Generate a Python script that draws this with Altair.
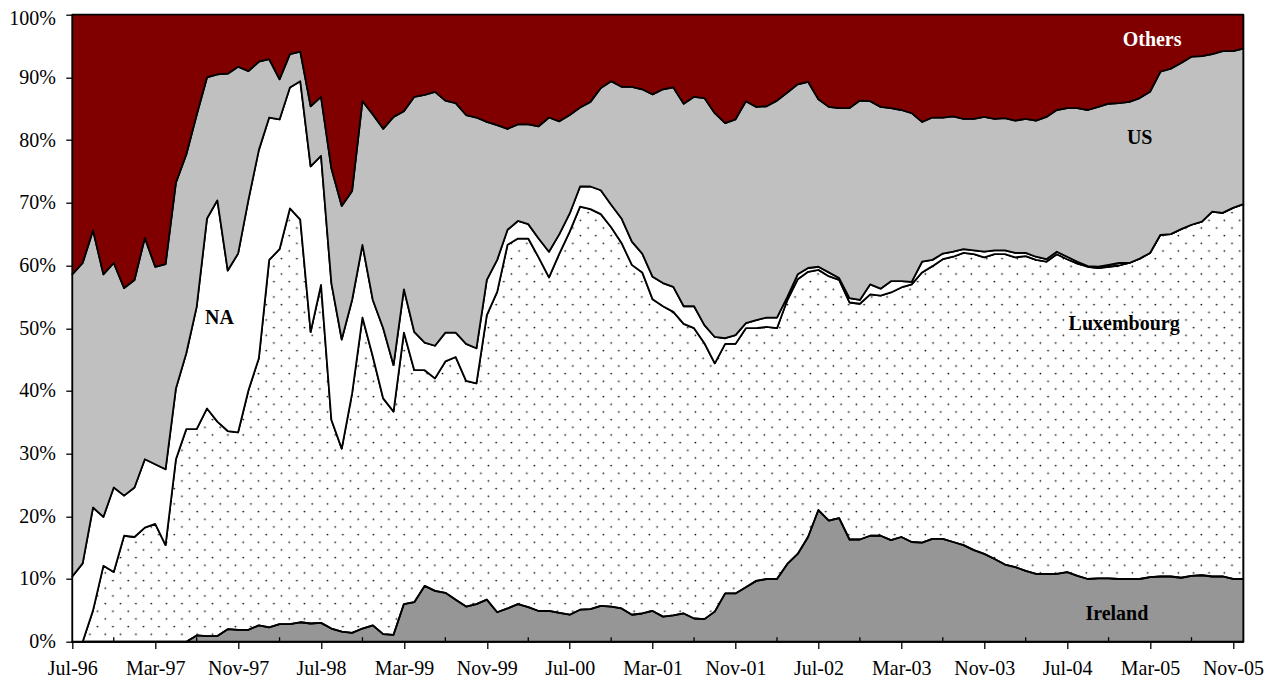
import json
from urllib.parse import quote

import altair as alt
import pandas as pd

# ---------------- data (shares in %, monthly Jul-96 .. Dec-05) ----------------
months = list(pd.period_range("1996-07", periods=114, freq="M").strftime("%b-%y"))

tick_labels = ["Jul-96", "Mar-97", "Nov-97", "Jul-98", "Mar-99", "Nov-99", "Jul-00",
               "Mar-01", "Nov-01", "Jul-02", "Mar-03", "Nov-03", "Jul-04", "Mar-05", "Nov-05"]
minor_ticks = ["Nov-96", "Jul-97", "Mar-98", "Nov-98", "Jul-99", "Mar-00", "Nov-00",
               "Jul-01", "Mar-02", "Nov-02", "Jul-03", "Mar-04", "Nov-04", "Jul-05"]

ireland = [0, 0, 0, 0, 0, 0, 0, 0, 0, 0, 0, 0,
           1.0, 0.9, 0.9, 2.0, 1.9, 1.9, 2.6, 2.3, 2.8, 2.8, 3.1, 2.9, 3.0, 2.1, 1.6, 1.4, 2.1, 2.6, 1.2, 1.1,
           6.0, 6.3, 8.9, 8.1, 7.8, 6.7, 5.6, 6.0, 6.7, 4.7, 5.3, 6.0, 5.5, 4.9, 4.9, 4.6, 4.3, 5.1, 5.2, 5.7,
           5.6, 5.3, 4.3, 4.5, 4.9, 4.0, 4.2, 4.5, 3.7, 3.6, 4.8, 7.7, 7.7, 8.7, 9.7, 10.0, 10.0, 12.4, 14.0, 16.7,
           21.0, 19.3, 19.7, 16.3, 16.3, 16.9, 16.9, 16.2, 16.7, 15.9, 15.8, 16.4, 16.4, 15.9, 15.4, 14.6, 14.0, 13.2, 12.3, 11.9,
           11.3, 10.8, 10.8, 10.8, 11.1, 10.5, 10.0, 10.1, 10.1, 10.0, 10.0, 10.0, 10.3, 10.4, 10.4, 10.2, 10.5, 10.6, 10.4, 10.4,
           10.0, 10.0]

luxembourg = [0, 0, 5.0, 12.1, 11.1, 16.9, 16.7, 18.2, 18.8, 15.4, 29.1, 33.9,
              32.9, 36.3, 34.2, 31.6, 31.5, 38.2, 42.6, 58.6, 59.8, 66.3, 64.2, 46.5, 53.9, 33.3, 29.2, 38.2, 49.6, 42.9, 37.6, 35.6,
              43.3, 37.0, 34.4, 33.9, 36.9, 38.7, 36.0, 35.2, 45.4, 51.1, 58.0, 58.3, 58.8, 56.4, 53.2, 57.3, 61.1, 64.3, 63.8, 62.5,
              60.5, 58.3, 55.8, 54.4, 49.7, 49.5, 48.4, 46.2, 46.3, 44.0, 39.6, 39.8, 39.8, 41.3, 40.3, 40.2, 40.0, 42.1, 43.8, 42.3,
              38.3, 39.0, 38.0, 37.8, 37.6, 38.5, 38.3, 39.5, 39.8, 41.1, 43.1, 43.5, 44.6, 45.5, 46.6, 47.2, 47.3, 48.6, 49.5, 49.4,
              50.2, 50.1, 49.8, 51.0, 49.9, 49.8, 49.8, 49.5, 49.7, 50.0, 50.4, 51.1, 51.7, 54.5, 54.6, 55.6, 56.0, 56.4, 58.2, 58.0,
              59.2, 59.8]

na = [10.4, 12.5, 16.4, 7.8, 13.5, 6.4, 7.9, 10.9, 9.5, 12.1, 11.3, 12.1,
      19.5, 30.3, 35.3, 25.6, 28.5, 30.4, 33.2, 22.7, 20.7, 19.3, 22.1, 26.4, 20.6, 21.8, 17.4, 14.9, 11.6, 9.0, 11.2, 7.4,
      6.9, 6.1, 4.4, 5.2, 4.6, 3.9, 5.9, 5.6, 5.6, 5.1, 2.4, 2.8, 2.3, 3.0, 4.1, 3.1, 2.9, 3.2, 3.6, 3.8,
      3.6, 3.9, 3.7, 3.0, 3.6, 3.7, 4.0, 2.8, 3.5, 2.9, 4.2, 0.9, 1.4, 0.8, 1.3, 1.5, 1.7, 0.5, 0.8, 0.6,
      0.5, 0.6, 0.3, 0.7, 0.6, 1.6, 1.1, 1.8, 1.0, 0.4, 1.7, 1.0, 0.9, 0.8, 0.6, 0.6, 0.9, 0.6, 0.6, 0.7,
      0.5, 0.5, 0.4, 0.4, 0.4, 0.3, 0.1, 0.2, 0.3, 0.4, 0.0, 0.0, 0, 0, 0, 0, 0, 0, 0, 0,
      0, 0]

us = [48.2, 47.9, 44.2, 38.7, 35.8, 33.1, 33.1, 35.3, 31.5, 32.7, 32.8, 31.7,
      30.6, 22.5, 20.1, 31.4, 29.8, 20.5, 14.1, 9.3, 6.4, 5.3, 4.7, 9.6, 9.4, 18.3, 21.3, 17.4, 22.9, 29.6, 31.8, 39.6,
      28.4, 37.5, 39.5, 40.5, 37.0, 36.6, 36.5, 36.8, 25.2, 21.5, 16.1, 15.4, 15.9, 17.9, 21.4, 18.0, 15.7, 12.6, 13.5, 16.3,
      19.7, 21.0, 24.7, 26.2, 29.1, 30.9, 31.8, 32.3, 33.4, 36.2, 35.7, 34.3, 34.4, 35.4, 34.0, 33.7, 34.6, 32.6, 30.3, 29.7,
      26.7, 26.4, 27.1, 30.3, 31.8, 29.2, 29.0, 27.6, 27.3, 26.9, 22.3, 22.7, 21.7, 21.6, 20.8, 21.0, 21.5, 21.0, 21.1, 21.1,
      21.4, 21.7, 22.7, 22.6, 23.7, 24.5, 24.9, 25.5, 25.7, 25.5, 25.7, 25.6, 25.7, 26.0, 26.4, 26.5, 26.8, 26.4, 25.1, 25.8,
      25.0, 24.8]

others = [41.4, 39.6, 34.4, 41.4, 39.6, 43.6, 42.3, 35.6, 40.2, 39.8, 26.8, 22.3,
          16.0, 10.0, 9.5, 9.4, 8.3, 9.0, 7.5, 7.1, 10.3, 6.3, 5.9, 14.6, 13.1, 24.5, 30.5, 28.1, 13.8, 15.9, 18.2, 16.3,
          15.4, 13.1, 12.8, 12.3, 13.7, 14.1, 16.0, 16.4, 17.1, 17.6, 18.2, 17.5, 17.5, 17.8, 16.4, 17.0, 16.0, 14.8, 13.9, 11.7,
          10.6, 11.5, 11.5, 11.9, 12.7, 11.9, 11.6, 14.2, 13.1, 13.3, 15.7, 17.3, 16.7, 13.8, 14.7, 14.6, 13.7, 12.4, 11.1, 10.7,
          13.5, 14.7, 14.9, 14.9, 13.7, 13.8, 14.7, 14.9, 15.2, 15.7, 17.1, 16.4, 16.4, 16.2, 16.6, 16.6, 16.3, 16.6, 16.5, 16.9,
          16.6, 16.9, 16.3, 15.2, 14.9, 14.9, 15.2, 14.7, 14.2, 14.1, 13.9, 13.3, 12.3, 9.1, 8.6, 7.7, 6.7, 6.6, 6.3, 5.8,
          5.8, 5.4]

series_names = ["Ireland", "Luxembourg", "NA", "US", "Others"]
series_values = [ireland, luxembourg, na, us, others]
series_fill = ["#969696", "transparent", "#ffffff", "#c0c0c0", "#800000"]

# in-chart labels: (name, month position, share)
label_names = ["Others", "US", "NA", "Luxembourg", "Ireland"]
label_month = [104.2, 103.0, 14.2, 101.5, 100.8]
label_share = [0.959, 0.803, 0.516, 0.507, 0.044]
label_color = ["#ffffff", "#000000", "#000000", "#000000", "#000000"]

# ---------------- tables ----------------
rows = []
for k, (name, vals) in enumerate(zip(series_names, series_values)):
    for i, v in enumerate(vals):
        rows.append({"month": months[i], "idx": i, "series": name, "share": v, "order": k})
df = pd.DataFrame(rows)

lab_df = pd.DataFrame({"name": label_names, "idx": label_month,
                       "pos": label_share, "tcolor": label_color})
minor_df = pd.DataFrame({"idx": [months.index(m) for m in minor_ticks]})

W, H = 1171, 627
FONT = "Liberation Serif"

# dotted texture (5% pattern) shown through the transparent Luxembourg band
P = 15.33
svg = (f"<svg xmlns='http://www.w3.org/2000/svg' width='{W}' height='{H}'>"
       f"<defs><pattern id='d' width='{P}' height='{P}' patternUnits='userSpaceOnUse'>"
       f"<circle cx='2.3' cy='6.3' r='0.9' fill='#111'/>"
       f"<circle cx='9.96' cy='13.97' r='0.9' fill='#111'/></pattern></defs>"
       f"<rect width='{W}' height='{H}' fill='url(#d)'/></svg>")
uri = "data:image/svg+xml," + quote(svg, safe="")

texture = alt.Chart(alt.Data(values=[{"k": 0}])).mark_image(
    url=uri, width=W, height=H, aspect=False, align="left", baseline="top"
).encode(x=alt.value(0), y=alt.value(0))

x_enc = alt.X(
    "idx:Q",
    scale=alt.Scale(domain=[0, len(months) - 1], nice=False, zero=False),
    axis=alt.Axis(values=[months.index(t) for t in tick_labels],
                  labelExpr=json.dumps(months) + "[datum.value]",
                  tickSize=6.7, labelPadding=10.5, labelFlush=False,
                  labelOverlap=False, title=None),
)

y_enc = alt.Y(
    "share:Q", stack="normalize",
    scale=alt.Scale(domain=[0, 1]),
    axis=alt.Axis(values=[i / 10 for i in range(11)], format=".0%",
                  tickSize=6.5, labelPadding=10.5, title=None,
                  labelOffset={"condition": {"test": "datum.value >= 1", "value": 3.5},
                               "value": 0}),
)

areas = alt.Chart(df).mark_area(
    stroke="black", strokeWidth=1.8, strokeJoin="round"
).encode(
    x=x_enc,
    y=y_enc,
    color=alt.Color("series:N", scale=alt.Scale(domain=series_names, range=series_fill),
                    legend=None),
    order=alt.Order("order:Q", sort="ascending"),
)

minor = alt.Chart(minor_df).mark_rule(color="black", strokeWidth=1.3).encode(
    x="idx:Q", y=alt.value(H - 4.5), y2=alt.value(H)
)

labels = alt.Chart(lab_df).mark_text(
    font=FONT, fontSize=20, fontWeight="bold", align="center", baseline="middle"
).encode(
    x="idx:Q", y="pos:Q", text="name:N", color=alt.Color("tcolor:N", scale=None)
)

chart = alt.layer(texture, areas, minor, labels).properties(
    width=W, height=H,
    padding={"left": 64.3, "top": 6.7, "right": 25, "bottom": 37.3},
    autosize=alt.AutoSizeParams(type="none"),
).configure(
    font=FONT
).configure_view(
    stroke="black", strokeWidth=1.3
).configure_axis(
    domainColor="black", domainWidth=1.3, tickColor="black", tickWidth=1.3,
    labelColor="black", labelFont=FONT, labelFontSize=20, grid=False,
)

chart.save("out.html", embed_options={"renderer": "svg", "actions": False})
